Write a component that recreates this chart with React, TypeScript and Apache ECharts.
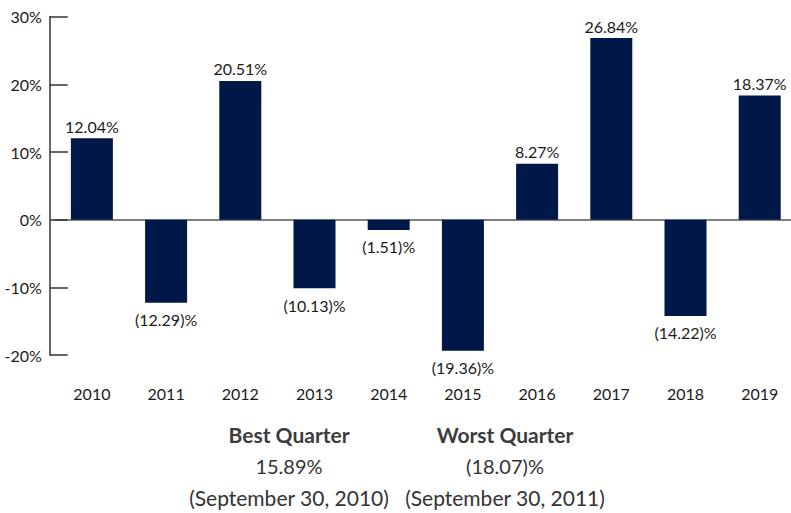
import React, { useEffect, useRef } from "react";
import * as echarts from "echarts";

const years = ["2010", "2011", "2012", "2013", "2014", "2015", "2016", "2017", "2018", "2019"];
const returns = [12.04, -12.29, 20.51, -10.13, -1.51, -19.36, 8.27, 26.84, -14.22, 18.37];
const yTicks = { min: -20, max: 30, interval: 10 };
const bestQuarter = { title: "Best Quarter", value: "15.89%", date: "(September 30, 2010)" };
const worstQuarter = { title: "Worst Quarter", value: "(18.07)%", date: "(September 30, 2011)" };

const FONT = "Lato";

function fmt(v: number): string {
  return v < 0 ? `(${Math.abs(v).toFixed(2)})%` : `${v.toFixed(2)}%`;
}

export default function App() {
  const ref = useRef<HTMLDivElement>(null);
  useEffect(() => {
    document.body.style.margin = "0";
    const chart = echarts.init(ref.current!, null, { renderer: "svg" });
    const textBlock = (q: { title: string; value: string; date: string }, cx: number) => [
      {
        type: "text",
        x: cx,
        y: 434,
        style: { text: q.title, font: `bold 21px ${FONT}`, fill: "#3c3c3c", textAlign: "center", textVerticalAlign: "middle" },
      },
      {
        type: "text",
        x: cx,
        y: 466,
        style: { text: q.value, font: `20px ${FONT}`, fill: "#333", textAlign: "center", textVerticalAlign: "middle" },
      },
      {
        type: "text",
        x: cx,
        y: 497,
        style: { text: q.date, font: `21px ${FONT}`, fill: "#333", textAlign: "center", textVerticalAlign: "middle" },
      },
    ];
    chart.setOption({
      animation: false,
      grid: {
        left: 54.8,
        top: 16.7,
        height: 338.3,
        width: 742,
        containLabel: false,
        outerBoundsMode: "none",
      },
      xAxis: {
        type: "category",
        data: years,
        axisLine: { onZero: true, lineStyle: { color: "#555", width: 1.5 } },
        axisTick: { show: false },
        axisLabel: { margin: 30, color: "#1a1a1a", fontFamily: FONT, fontSize: 16 },
      },
      yAxis: {
        type: "value",
        min: yTicks.min,
        max: yTicks.max,
        interval: yTicks.interval,
        offset: 5,
        axisLine: { show: true, lineStyle: { color: "#333", width: 1.5 } },
        axisTick: { show: true, inside: true, length: 18, lineStyle: { color: "#333", width: 1.5 } },
        splitLine: { show: false },
        axisLabel: {
          formatter: "{value}%",
          color: "#1a1a1a",
          fontFamily: FONT,
          fontSize: 16,
          margin: 8,
        },
      },
      series: [
        {
          type: "bar",
          data: returns.map((v) => ({
            value: v,
            label: { position: v >= 0 ? "top" : "bottom", distance: v >= 0 ? 4 : 9 },
          })),
          barWidth: 42,
          itemStyle: { color: "#001847" },
          label: {
            show: true,
            formatter: (p: any) => fmt(p.value),
            color: "#1a1a1a",
            fontFamily: FONT,
            fontSize: 16,
          },
        },
      ],
      graphic: [...textBlock(bestQuarter, 289), ...textBlock(worstQuarter, 505)],
    });
    return () => chart.dispose();
  }, []);
  return <div ref={ref} style={{ width: 791, height: 513 }} />;
}
